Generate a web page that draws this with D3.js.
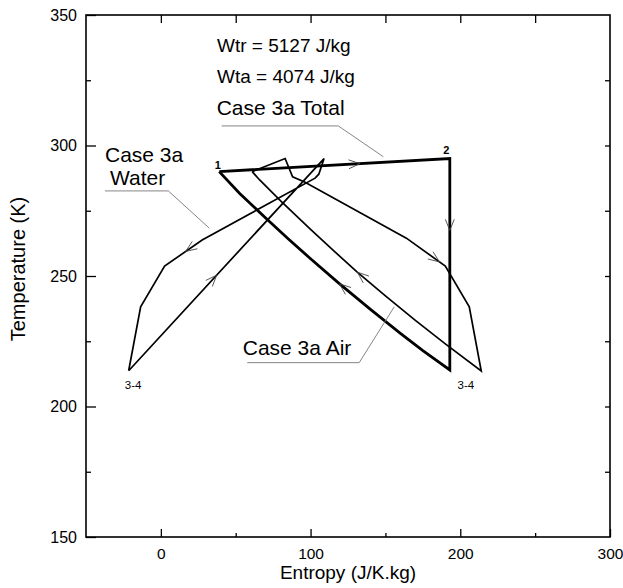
<!DOCTYPE html>
<html>
<head>
<meta charset="utf-8">
<script src="https://cdn.jsdelivr.net/npm/d3@7"></script>
<style>
  body { margin: 0; background: #fff; }
  svg { display: block; }
  text { font-family: Arial, "Liberation Sans", sans-serif; fill: #000; }
</style>
</head>
<body>
<svg id="chart"></svg>
<script>
// axis ticks
const xMajor = [0, 100, 200, 300];
const xMinor = [50, 150, 250];
const yMajor = [150, 200, 250, 300, 350];
const yMinor = [175, 225, 275, 325];

// cycles, [entropy J/K.kg, temperature K]
const totalCycle = [[39, 290], [193, 295], [193, 214], [175, 221.4], [160, 228], [140, 237.2], [119, 247.2],
  [100, 256.6], [85, 264.3], [70, 272.2], [52.5, 281.7], [39, 290]];
const airCycle = [[61, 290], [83, 295], [88, 288], [96, 286], [164, 264.5], [190, 253.8], [206, 238.2], [214, 213.6],
  [190, 224], [170, 233], [150, 242.4], [131, 251.6], [115, 259.9], [100, 267.9], [80, 278.8], [66, 286.8], [61, 290]];
const waterCycle = [[-21.5, 213.7], [109, 295], [105.5, 289], [103, 287.5], [27.6, 263.8], [2.5, 253.8], [-13.5, 238.2], [-21.5, 213.7]];

// flow arrows: which cycle, segment index, fraction along it
const arrows = [
  ['total', 0, 0.61], ['total', 1, 0.34], ['total', 5, 0.98],
  ['air', 4, 0.85], ['air', 10, 0.98],
  ['water', 4, 0.44], ['water', 0, 0.45],
];

const notes = ['Wtr = 5127 J/kg', 'Wta = 4074 J/kg'];

const W = 623, H = 588;
const svg = d3.select('#chart').attr('width', W).attr('height', H);

const x = d3.scaleLinear().domain([-50, 300]).range([86, 610]);
const y = d3.scaleLinear().domain([150, 350]).range([537, 15]);

// ticks (inside the frame)
const tickStyle = g => g.call(s => s.select('.domain').remove())
  .selectAll('line').attr('stroke', '#000').attr('stroke-width', 1.3);

svg.append('g').attr('transform', `translate(0,${y(150)})`)
  .call(d3.axisBottom(x).tickValues(xMajor).tickSize(-8).tickPadding(10.5).tickFormat(d3.format('d')))
  .call(tickStyle)
  .call(g => g.selectAll('text').attr('font-size', 15.5).attr('font-family', 'Arial, "Liberation Sans", sans-serif'));
svg.append('g').attr('transform', `translate(0,${y(150)})`)
  .call(d3.axisBottom(x).tickValues(xMinor).tickSize(-4).tickFormat(''))
  .call(tickStyle);
svg.append('g').attr('transform', `translate(0,${y(350)})`)
  .call(d3.axisTop(x).tickValues(xMajor.concat(xMinor).filter(v => v < 300)).tickSize(-8).tickFormat(''))
  .call(tickStyle);

svg.append('g').attr('transform', `translate(${x(-50)},0)`)
  .call(d3.axisLeft(y).tickValues(yMajor).tickSize(-10).tickPadding(9).tickFormat(d3.format('d')))
  .call(tickStyle)
  .call(g => g.selectAll('text').attr('font-size', 16).attr('font-family', 'Arial, "Liberation Sans", sans-serif'));
svg.append('g').attr('transform', `translate(${x(-50)},0)`)
  .call(d3.axisLeft(y).tickValues(yMinor).tickSize(-5).tickFormat(''))
  .call(tickStyle);
svg.append('g').attr('transform', `translate(${x(300)},0)`)
  .call(d3.axisRight(y).tickValues(yMajor.concat(yMinor).filter(v => v > 150 && v < 350)).tickSize(-5).tickFormat(''))
  .call(tickStyle);

// frame
svg.append('rect')
  .attr('x', x(-50)).attr('y', y(350))
  .attr('width', x(300) - x(-50)).attr('height', y(150) - y(350))
  .attr('fill', 'none').attr('stroke', '#000').attr('stroke-width', 1.6);

// axis titles
svg.append('text')
  .attr('x', (x(-50) + x(300)) / 2).attr('y', 579)
  .attr('text-anchor', 'middle').attr('font-size', 19)
  .text('Entropy (J/K.kg)');
svg.append('text')
  .attr('transform', `translate(25,${(y(150) + y(350)) / 2 - 7}) rotate(-90)`)
  .attr('text-anchor', 'middle').attr('font-size', 20)
  .text('Temperature (K)');

// cycles
const line = d3.line().x(d => x(d[0])).y(d => y(d[1]));
const cycles = { total: totalCycle, air: airCycle, water: waterCycle };
const widths = { total: 2.8, air: 1.7, water: 1.7 };

Object.entries(cycles).forEach(([key, pts]) => {
  svg.append('path')
    .attr('d', line(pts))
    .attr('fill', 'none')
    .attr('stroke', '#000')
    .attr('stroke-width', widths[key])
    .attr('stroke-linejoin', 'miter');
});

// open chevron arrows
arrows.forEach(([key, seg, t]) => {
  const p0 = cycles[key][seg], p1 = cycles[key][seg + 1];
  const x0 = x(p0[0]), y0 = y(p0[1]), x1 = x(p1[0]), y1 = y(p1[1]);
  const tx = x0 + (x1 - x0) * t, ty = y0 + (y1 - y0) * t;
  const a = Math.atan2(y1 - y0, x1 - x0);
  const len = 12, spread = 0.38;
  const arm = s => [tx - len * Math.cos(a + s), ty - len * Math.sin(a + s)];
  const l = arm(spread), r = arm(-spread);
  svg.append('path')
    .attr('d', `M${l[0]},${l[1]}L${tx},${ty}L${r[0]},${r[1]}`)
    .attr('fill', 'none').attr('stroke', '#444').attr('stroke-width', 0.9);
});

// annotations
const notesG = svg.append('g').attr('font-size', 19);
notes.forEach((n, i) => {
  notesG.append('text').attr('x', x(37.5)).attr('y', y(335.8 - i * 11.9)).text(n);
});

const big = svg.append('g').attr('font-size', 21);
big.append('text').attr('x', x(37.3)).attr('y', y(311.7)).text('Case 3a Total');
big.append('text').attr('x', x(-37.3)).attr('y', y(293.8)).text('Case 3a');
big.append('text').attr('x', x(-34)).attr('y', y(284.9)).text('Water');
big.append('text').attr('x', x(54.7)).attr('y', y(219.7)).text('Case 3a Air');

const leader = d3.line().x(d => x(d[0])).y(d => y(d[1]));
[
  [[40.6, 307.5], [118.5, 307.5], [148.6, 295.7]],
  [[-37.3, 282.6], [5, 282.6], [32.4, 268.3]],
  [[57.7, 216.8], [132.5, 216.8], [155.9, 238.2]],
].forEach(pts => {
  svg.append('path').attr('d', leader(pts))
    .attr('fill', 'none').attr('stroke', '#777').attr('stroke-width', 0.9);
});

// state point labels
const ptLabel = (p, dx, dy, txt, bold) => svg.append('text')
  .attr('x', x(p[0]) + dx).attr('y', y(p[1]) + dy)
  .attr('text-anchor', 'middle').attr('font-size', bold ? 11 : 11.5)
  .attr('font-weight', bold ? 'bold' : 'normal')
  .text(txt);
ptLabel(totalCycle[0], -1.5, -3, '1', true);
ptLabel(totalCycle[1], -3.5, -5, '2', true);
ptLabel(waterCycle[0], 4.5, 18.5, '3-4', false);
ptLabel(totalCycle[2], 16, 19, '3-4', false);
</script>
</body>
</html>
